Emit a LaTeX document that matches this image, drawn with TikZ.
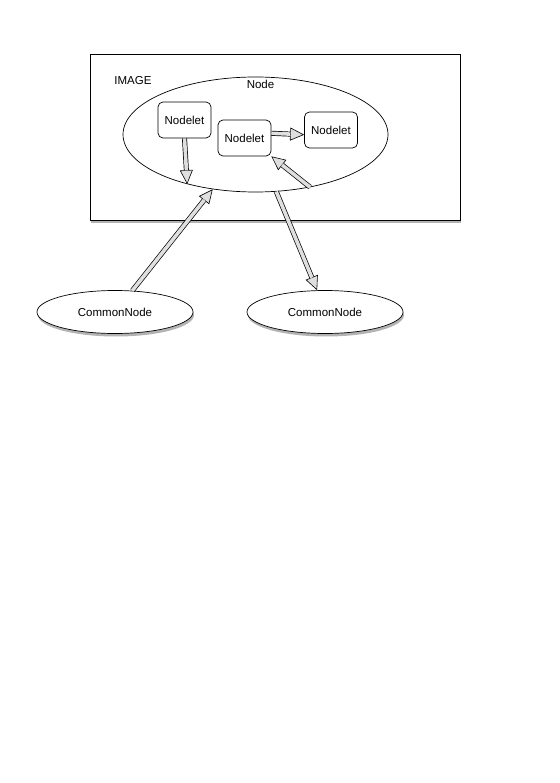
\documentclass[tikz,border=0pt]{standalone}
\usepackage{fontspec}
\setmainfont{Liberation Sans}
\usepackage{tikz}
\usetikzlibrary{arrows.meta,shapes,shadows,calc}

\begin{document}
\begin{tikzpicture}[x=1pt,y=-1pt,
	font=\fontsize{11.5}{13}\selectfont,
	imagebox/.style={
	draw,
	fill=white,
	line width=0.9pt,
	minimum width=370pt,
	minimum height=166pt,
	inner sep=0pt,
	drop shadow={shadow xshift=1pt,shadow yshift=-3pt,opacity=0.6}
},
	bignode/.style={
	ellipse,
	draw,
	line width=0.7pt,
	minimum width=265pt,
	minimum height=115pt,
	inner sep=0pt
},
	nodelet/.style={
	draw,
	fill=white,
	rounded corners=5pt,
	line width=0.7pt,
	minimum width=53pt,
	minimum height=36pt,
	inner sep=0pt
},
	common/.style={
	ellipse,
	draw,
	fill=white,
	line width=0.7pt,
	minimum width=156pt,
	minimum height=43pt,
	inner sep=0pt,
	drop shadow={shadow xshift=1pt,shadow yshift=-3pt,opacity=0.6}
},
	fat/.style={
	line width=5pt,
	-{Triangle[length=14pt,width=13pt,fill=gray!25,line width=0.6pt]},
	postaction={draw,gray!25,line width=3.6pt,-,shorten >=13.7pt}
},
]

\useasboundingbox (0,0) rectangle (559,783);

\node[imagebox] (img) at (275,137) {};
\node (imglabel) at (133,81) {IMAGE};

\node[bignode] (N) at (255.5,134.5) {};
\node (Nlabel) at (260.5,84) {Node};

\node[nodelet] (A) at (184.5,120) {Nodelet};
\node[nodelet] (B) at (244.5,138) {Nodelet};
\node[nodelet] (C) at (331,130) {Nodelet};

\node[common] (CN1) at (115,312) {CommonNode};
\node[common] (CN2) at (325,312) {CommonNode};

% connectors
\draw[fat] (A.south) -- (N.216);
\draw[fat] (B.10) -- (C.190);
\draw[fat] (N.-44) -- (B.south east);
\draw[fat] (CN1.51) -- (N.232);
\draw[fat] (N.-70) -- (CN2.110);

\end{tikzpicture}
\end{document}
